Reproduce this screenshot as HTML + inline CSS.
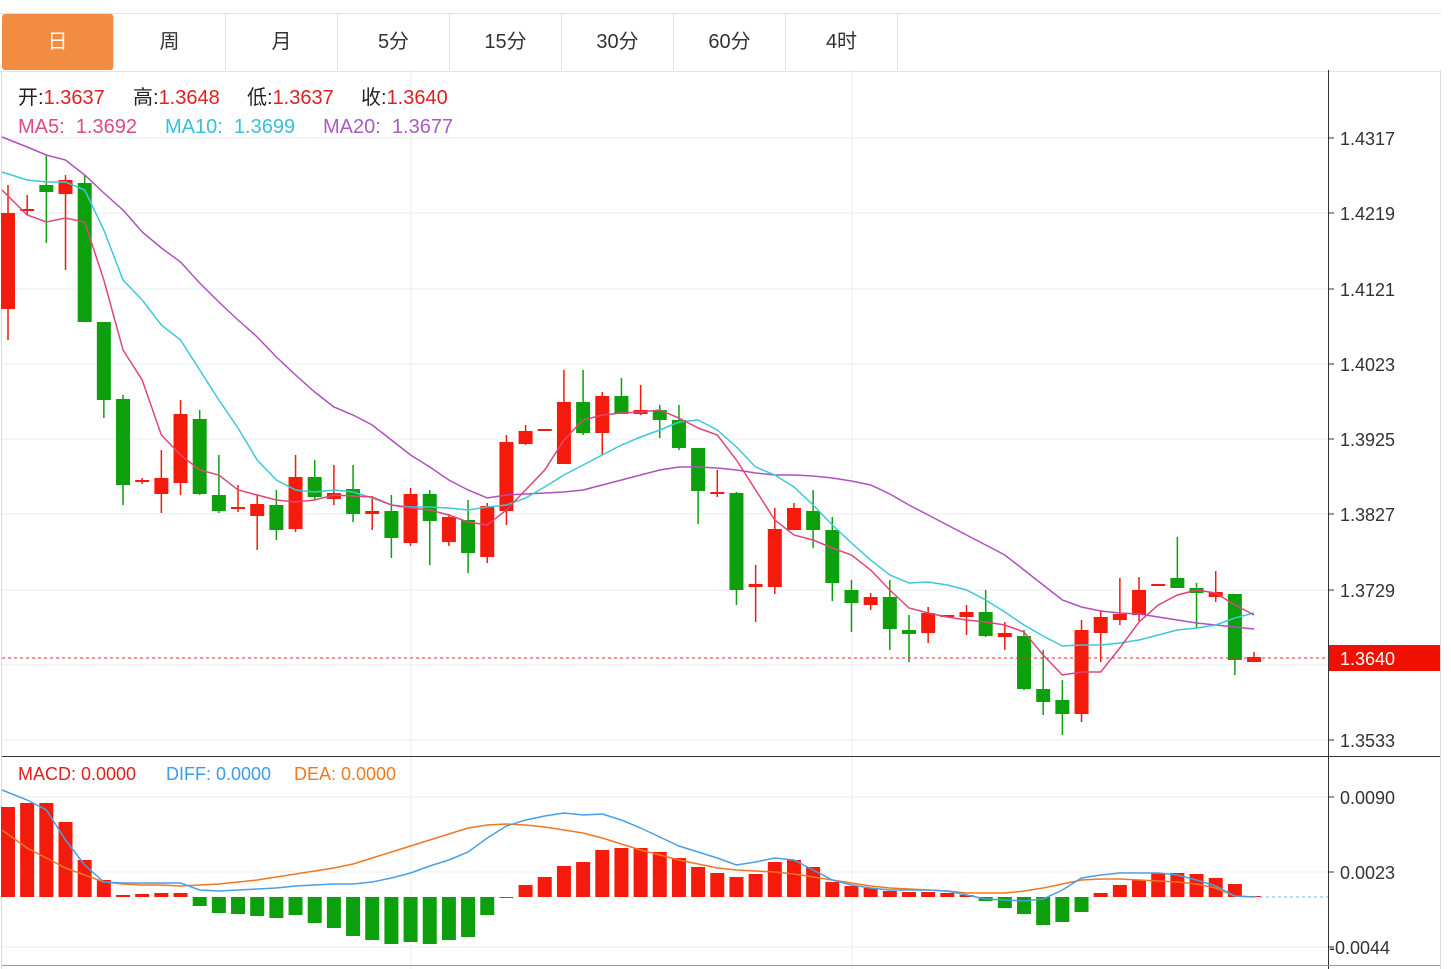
<!DOCTYPE html><html><head><meta charset="utf-8"><style>
body{margin:0;background:#fff;width:1451px;height:969px;overflow:hidden;font-family:"Liberation Sans","Noto Sans CJK SC",sans-serif}
.tab{position:absolute;top:14px;height:56px;width:111px;border-right:1px solid #e3e3e3;font-size:20px;line-height:56px;text-align:center;color:#333}
</style></head><body>
<div style="position:absolute;left:0;top:13px;width:1441px;height:57px;border-top:1px solid #e3e3e3;border-bottom:1px solid #e3e3e3"></div>
<div class="tab" style="left:2px;background:#f28c42;color:#fff;border-radius:3px">日</div>
<div class="tab" style="left:114px">周</div>
<div class="tab" style="left:226px">月</div>
<div class="tab" style="left:338px">5分</div>
<div class="tab" style="left:450px">15分</div>
<div class="tab" style="left:562px">30分</div>
<div class="tab" style="left:674px">60分</div>
<div class="tab" style="left:786px">4时</div>
<svg id="s" width="1451" height="969" style="position:absolute;left:0;top:0" font-family="Liberation Sans, Noto Sans CJK SC, sans-serif">
<g stroke="#e8eef4" stroke-width="1">
<line x1="2" x2="1328" y1="138" y2="138"/><line x1="2" x2="1328" y1="213" y2="213"/><line x1="2" x2="1328" y1="289" y2="289"/><line x1="2" x2="1328" y1="364" y2="364"/><line x1="2" x2="1328" y1="439" y2="439"/><line x1="2" x2="1328" y1="514" y2="514"/><line x1="2" x2="1328" y1="590" y2="590"/><line x1="2" x2="1328" y1="665" y2="665"/><line x1="2" x2="1328" y1="740" y2="740"/>
<line x1="2" x2="1328" y1="797" y2="797"/><line x1="2" x2="1328" y1="872" y2="872"/><line x1="2" x2="1328" y1="947" y2="947"/>
<line x1="411" x2="411" y1="70" y2="969"/><line x1="852" x2="852" y1="70" y2="969"/>
</g>
<line x1="1328.5" x2="1328.5" y1="70" y2="969" stroke="#333"/>
<line x1="2" x2="1440" y1="756.5" y2="756.5" stroke="#333"/>
<line x1="2" x2="1440" y1="965.5" y2="965.5" stroke="#999"/>
<line x1="1440.5" x2="1440.5" y1="70" y2="969" stroke="#ddd"/>
<line x1="1.5" x2="1.5" y1="70" y2="969" stroke="#ddd"/>
<g id="c"></g>
<line x1="2" x2="1328" y1="658" y2="658" stroke="#e03030" stroke-dasharray="3,3"/>
<line x1="1254" x2="1328" y1="897" y2="897" stroke="#7ab8ee" stroke-dasharray="3,3"/>
<rect x="1329" y="645" width="111" height="26" fill="#f01000"/>
<g font-size="18" fill="#333">
<text x="1340" y="145">1.4317</text><text x="1340" y="220">1.4219</text><text x="1340" y="296">1.4121</text><text x="1340" y="371">1.4023</text><text x="1340" y="446">1.3925</text><text x="1340" y="521">1.3827</text><text x="1340" y="597">1.3729</text><text x="1340" y="747">1.3533</text>
<text x="1340" y="804">0.0090</text><text x="1340" y="879">0.0023</text><text x="1329" y="954">-0.0044</text>
<text x="1340" y="665" fill="#fff">1.3640</text>
</g>
<g stroke="#333"><line x1="1328" x2="1334" y1="138" y2="138"/><line x1="1328" x2="1334" y1="213" y2="213"/><line x1="1328" x2="1334" y1="289" y2="289"/><line x1="1328" x2="1334" y1="364" y2="364"/><line x1="1328" x2="1334" y1="439" y2="439"/><line x1="1328" x2="1334" y1="514" y2="514"/><line x1="1328" x2="1334" y1="590" y2="590"/><line x1="1328" x2="1334" y1="740" y2="740"/><line x1="1328" x2="1334" y1="797" y2="797"/><line x1="1328" x2="1334" y1="872" y2="872"/><line x1="1328" x2="1334" y1="947" y2="947"/></g>
<g font-size="20">
<text x="18" y="104" fill="#222">开:<tspan fill="#e02020">1.3637</tspan></text>
<text x="133" y="104" fill="#222">高:<tspan fill="#e02020">1.3648</tspan></text>
<text x="247" y="104" fill="#222">低:<tspan fill="#e02020">1.3637</tspan></text>
<text x="361" y="104" fill="#222">收:<tspan fill="#e02020">1.3640</tspan></text>
<text x="18" y="133" fill="#dc4a86">MA5:&#160;&#160;1.3692</text>
<text x="165" y="133" fill="#38c0d8">MA10:&#160;&#160;1.3699</text>
<text x="323" y="133" fill="#a85cc0">MA20:&#160;&#160;1.3677</text>
</g>
<g font-size="18">
<text x="18" y="780" fill="#e02020">MACD: 0.0000</text>
<text x="166" y="780" fill="#3a9de8">DIFF: 0.0000</text>
<text x="294" y="780" fill="#ee7a20">DEA: 0.0000</text>
</g>
</svg>
<script>
var C=[['r',213,309,185,340],['r',209,211,195,215],['g',185,192,155,243],['r',180,194,175,270],['g',183,322,175,322],['g',322,400,322,418],['g',399,485,395,505],['r',480,482,478,484],['r',478,494,450,513],['r',414,483,400,495],['g',419,494,410,495],['g',495,511,455,513],['r',507,509,485,512],['r',504,516,495,550],['g',505,530,490,540],['r',477,529,455,532],['g',477,497,460,500],['r',493,499,465,505],['g',489,514,465,522],['r',511,514,496,530],['g',511,538,495,558],['r',494,543,488,546],['g',494,521,490,565],['r',517,542,514,546],['g',520,553,500,573],['r',506,557,503,563],['r',442,511,435,525],['r',431,444,425,445],['r',429,431,429,431],['r',402,464,370,464],['g',402,433,370,435],['r',396,433,392,455],['g',396,414,378,414],['r',410,414,385,415],['g',410,420,405,438],['g',420,448,405,450],['g',448,491,448,524],['r',492,494,470,497],['g',493,590,492,605],['r',584,587,565,622],['r',529,587,508,594],['r',508,530,503,530],['g',511,530,490,548],['g',530,583,517,601],['g',590,603,580,632],['r',597,605,593,610],['g',597,629,580,650],['g',630,634,615,662],['r',613,633,607,643],['r',615,617,615,617],['r',612,617,605,635],['g',612,636,590,637],['r',633,637,622,650],['g',636,689,630,690],['g',689,702,650,715],['g',700,714,680,735],['r',630,714,620,722],['r',617,633,610,662],['r',614,620,578,625],['r',590,615,577,621],['r',584,586,584,586],['g',578,588,537,588],['g',588,593,583,628],['r',592,597,571,602],['g',594,660,594,675],['r',657,662,652,662]];
var M=[807,803,803,822,860,880,895,894,893,893,906,913,914,916,918,915,923,928,936,940,944,942,944,940,937,915,898,885,877,866,862,850,848,848,852,858,867,873,877,874,862,860,867,882,886,888,891,892,892,893,895,901,908,914,925,922,912,893,885,880,873,873,874,878,884,896];
var X=i=>8+i*19.17,R='#f41a0c',G='#0ca00c',h='';
C.forEach((c,i)=>{var x=X(i),col=c[0]=='r'?R:G;h+=`<line x1="${x}" x2="${x}" y1="${c[3]}" y2="${c[4]}" stroke="${col}" stroke-width="1.5"/><rect x="${x-7}" y="${c[1]}" width="14" height="${Math.max(2,c[2]-c[1])}" fill="${col}"/>`;});
M.forEach((m,i)=>{var x=X(i),t=Math.min(m,897),b=Math.max(m,897);h+=`<rect x="${x-7}" y="${t}" width="14" height="${Math.max(1,b-t)}" fill="${m>897?G:R}"/>`;});
function P(pts,col){return `<polyline fill="none" stroke="${col}" stroke-width="1.5" points="${pts}"/>`}
function Q(a,col){return P(a.map((y,i)=>(i==0?2:X(i))+','+y).join(' '),col)}
var ma5=[190,215,222,218,222,280,350,380,435,455,470,475,490,495,500,502,500,495,496,497,505,508,510,515,522,525,510,490,470,440,420,415,413,412,410,418,428,435,460,490,520,535,540,548,555,570,590,608,613,617,620,622,625,632,655,675,672,672,648,622,605,595,590,593,605,615];
var ma10=[172,180,182,182,190,230,280,300,325,340,370,400,428,460,480,490,492,490,492,498,505,507,507,508,510,507,505,498,487,475,465,455,445,437,430,422,420,430,447,467,475,487,505,525,543,560,575,583,582,585,590,600,612,625,636,646,645,645,643,640,635,630,628,625,618,613];
var ma20=[137,147,155,160,175,193,210,232,248,262,283,302,320,337,357,375,392,407,415,425,440,455,467,480,490,498,495,494,493,492,490,485,480,475,470,467,467,468,470,473,475,475,476,478,481,485,494,505,515,525,535,545,555,570,585,600,607,611,613,614,617,620,623,625,627,629];
var dif=[790,800,810,840,865,882,883,883,883,883,890,891,890,889,888,886,885,884,884,882,878,873,866,860,852,838,826,820,816,813,815,814,820,828,837,846,852,858,865,862,858,860,870,880,885,888,890,890,890,891,895,899,900,901,899,890,878,875,873,873,873,875,880,886,896,897];
var dea=[830,848,858,868,875,882,884,885,885,886,885,884,882,880,877,874,871,868,864,858,852,846,840,834,828,825,824,825,827,830,833,838,844,850,855,860,864,868,870,871,872,874,877,880,883,886,888,889,890,891,893,893,893,891,888,884,880,879,879,880,881,882,884,888,896,897];
h+=Q(ma20,'#b050c0')+Q(ma10,'#3cc8d8')+Q(ma5,'#e0457b')+Q(dea,'#f07820')+Q(dif,'#4b9fe6');
document.getElementById('c').innerHTML=h;
</script>
</body></html>
